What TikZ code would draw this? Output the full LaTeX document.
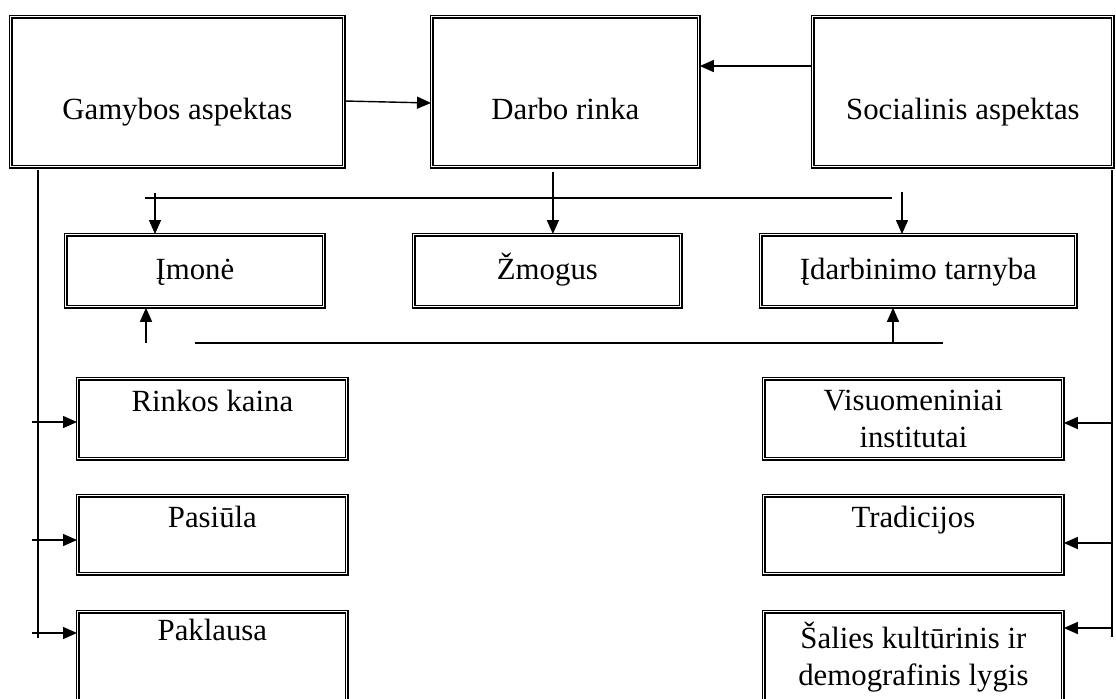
\documentclass[tikz,border=0pt]{standalone}
\usepackage{fontspec}
\setmainfont{Liberation Serif}
\usetikzlibrary{arrows.meta,positioning,calc}

\begin{document}
\begin{tikzpicture}[
    x=0.5pt, y=-0.5pt,
    box/.style={draw, double, line width=0.9pt, double distance=0.5pt,
      anchor=north west, align=center, inner sep=0pt,
      font=\fontsize{15.4}{18.5}\selectfont},
    topbox/.style={box, text height=51.5pt, text depth=23.5pt},
    midbox/.style={box, text height=22.5pt, text depth=13.5pt},
    arr/.style={-{Triangle[length=7pt,width=6pt]}, line width=0.7pt},
    bus/.style={line width=1.4pt}
  ]
  \useasboundingbox (0,0) rectangle (1116,698);

  % upper row
  \node[topbox, minimum width=166.5pt] (gam) at (10,16) {Gamybos aspektas};
  \node[topbox, minimum width=133.5pt] (dar) at (431,16) {Darbo rinka};
  \node[topbox, minimum width=150pt] (soc) at (812,16) {Socialinis aspektas};

  % middle row
  \node[midbox, minimum width=129pt] (imo) at (65,234) {Įmonė};
  \node[midbox, minimum width=133.5pt] (zmo) at (413,234) {Žmogus};
  \node[midbox, minimum width=157.5pt] (ida) at (760,234) {Įdarbinimo tarnyba};

  % left column
  \node[box, minimum width=134.5pt, text height=16.5pt, text depth=23.5pt] (rin) at (77,378) {Rinkos kaina};
  \node[box, minimum width=134.5pt, text height=16pt, text depth=23pt] (pas) at (77,495) {Pasiūla};
  \node[box, minimum width=134.5pt, text height=14.5pt, text depth=35pt] (pak) at (77,611) {Paklausa};

  % right column
  \node[box, minimum width=149.5pt, minimum height=40pt] (vis) at (763,378) {Visuomeniniai\\institutai};
  \node[box, minimum width=149.5pt, text height=16pt, text depth=23pt] (tra) at (763,495) {Tradicijos};
  \node[box, minimum width=149.5pt, minimum height=45pt] (sal) at (763,611) {Šalies kultūrinis ir\\demografinis lygis};

  \draw[arr] (gam.east |- 0,101) -- (dar.west |- 0,103);
  \draw[arr] (soc.west |- 0,66) -- (dar.east |- 0,66);

  % bus lines
  \coordinate (ua) at (145,198);
  \coordinate (ub) at (892,198);
  \coordinate (la) at (195,343);
  \coordinate (lb) at (943,343);
  \draw[bus] (ua) -- (ub);
  \draw[bus] (la) -- (lb);

  \coordinate (i1) at (155,193);
  \coordinate (i3) at (902,192);
  \coordinate (i4) at (146,343);
  \coordinate (i5) at (893,343);
  \draw[arr] (i1) -- (i1 |- imo.north);
  \draw[arr] ([xshift=-6.25pt,yshift=-2pt]dar.south) -- ([xshift=-6.25pt]dar.south |- zmo.north);
  \draw[arr] (i3) -- (i3 |- ida.north);
  \draw[arr] (i4) -- (i4 |- imo.south);
  \draw[arr] (i5) -- (i5 |- ida.south);

  % side lines
  \coordinate (lt) at (38,170);
  \coordinate (lbt) at (38,638);
  \coordinate (rt) at (1112,170);
  \coordinate (rbt) at (1112,637);
  \draw[line width=0.7pt] (lt) -- (lbt);
  \draw[line width=0.7pt] (rt) -- (rbt);
  \coordinate (lx) at (32,0);
  \coordinate (rx) at (1112,0);
  \foreach \b/\y in {rin/422, pas/540, pak/633}
    \draw[arr] (lx |- 0,\y) -- (\b.west |- 0,\y);
  \foreach \b/\y in {vis/423, tra/543, sal/628}
    \draw[arr] (rx |- 0,\y) -- (\b.east |- 0,\y);
\end{tikzpicture}
\end{document}
